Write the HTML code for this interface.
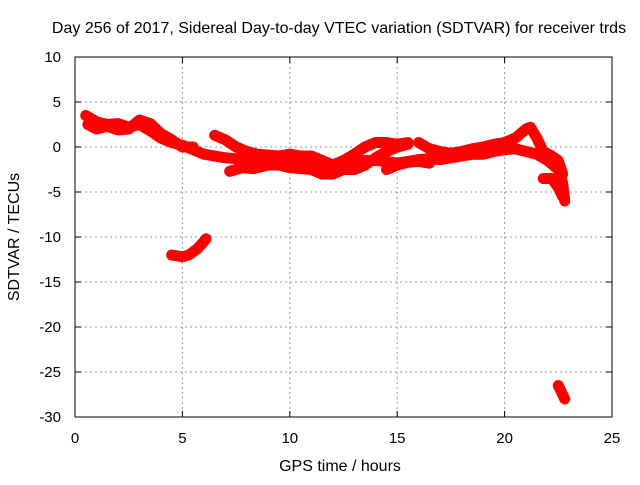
<!DOCTYPE html>
<html><head><meta charset="utf-8"><style>
body{margin:0;background:#fff}
svg text{font-family:"Liberation Sans",sans-serif;font-size:15px;fill:#000}
</style></head><body>
<svg id="chart" width="640" height="480">
<text x="339" y="33" text-anchor="middle" style="font-size:16px">Day 256 of 2017, Sidereal Day-to-day VTEC variation (SDTVAR) for receiver trds</text>
<text x="340" y="471" text-anchor="middle" style="font-size:16px">GPS time / hours</text>
<text transform="translate(19,237) rotate(-90)" text-anchor="middle" style="font-size:16px">SDTVAR / TECUs</text>
<g id="grid"></g><g id="marks"></g>
<rect x="75" y="57" width="537" height="360" fill="none" stroke="#000" stroke-width="1"/>
</svg>
<script>
const xTicks=[0,5,10,15,20,25];
const yTicks=[10,5,0,-5,-10,-15,-20,-25,-30];
const trackA=[[0.5,3.5],[1,2.8],[1.5,2.5],[2,2.6],[2.5,2.2],[3,2.5],[3.5,1.8],[4,1],[4.5,0.5],[5,0.2],[5.5,-0.3],[6,-0.8],[6.5,-1],[7,-1.2],[7.5,-1.3],[8,-1.4],[8.5,-1.2],[9,-1.5],[9.5,-1.7],[10,-1.8],[10.5,-1.9],[11,-2.2],[11.5,-2.6],[12,-2.5],[12.5,-2],[13,-1.8],[13.5,-1.5],[14,-1.5],[14.5,-1.6],[15,-1.8],[15.5,-1.6],[16,-1.4],[16.5,-1.3],[17,-1.4],[17.5,-1.2],[18,-1],[18.5,-0.8],[19,-0.8],[19.5,-0.5],[20,-0.3],[20.5,-0.2],[21,-0.5],[21.5,-0.8],[22,-1.5],[22.5,-2.5],[22.7,-4],[22.8,-6]];
const trackA2=[[0.6,2.5],[1,2],[1.5,2.3],[2,1.9],[2.5,2],[3,3],[3.5,2.6],[4,1.5],[4.5,0.8],[5,0],[5.5,0]];
const trackB=[[6.5,1.3],[7,0.8],[7.5,0],[8,-0.5],[8.5,-0.8],[9,-0.9],[9.5,-1],[10,-0.8],[10.5,-1],[11,-1],[11.5,-1.5],[12,-2],[12.5,-1.5],[13,-0.8],[13.5,0],[14,0.5],[14.5,0.5],[15,0.3],[15.5,0.5]];
const trackC=[[7.2,-2.7],[7.8,-2.3],[8.3,-2.4],[9,-2],[9.5,-2],[10,-2.3],[11,-2.5],[11.5,-3],[12,-3],[12.5,-2.5],[13,-2.5],[13.5,-2],[14,-1.2],[14.5,-0.5],[15,0],[15.5,0.3]];
const trackD=[[16,0.5],[16.5,-0.2],[17,-0.5],[17.5,-0.7],[18,-0.5],[18.5,-0.2],[19,0],[19.5,0.3],[20,0.5],[20.5,1],[21,2],[21.2,2.2],[21.5,1],[21.8,-0.5],[22.2,-1],[22.5,-1.5],[22.7,-3]];
const trackE=[[14.5,-2.5],[15,-2],[15.5,-1.7],[16,-1.6],[16.5,-1.8]];
const trackE2=[[21.8,-3.5],[22.2,-3.5],[22.5,-4.5],[22.7,-5.5]];
const trackF=[[4.5,-12],[5,-12.2],[5.3,-12],[5.7,-11.3],[6,-10.5],[6.1,-10.2]];
const trackG=[[22.5,-26.5],[22.6,-27],[22.7,-27.5],[22.8,-28]];
const tracks=[trackA,trackA2,trackB,trackC,trackD,trackE,trackE2,trackF,trackG];
const X=h=>75+h*537/25, Y=v=>57+(10-v)*9;
const NS='http://www.w3.org/2000/svg';
const grid=document.getElementById('grid'), marks=document.getElementById('marks');
function mk(tag,attrs,parent){const e=document.createElementNS(NS,tag);for(const k in attrs)e.setAttribute(k,attrs[k]);parent.appendChild(e);return e;}
xTicks.forEach(t=>{
  if(t>0&&t<25){const g=mk('line',{x1:X(t),x2:X(t),y1:57,y2:417,stroke:'#999','stroke-dasharray':'2,3'},grid);
  
  }
  mk('line',{x1:X(t),x2:X(t),y1:417,y2:411,stroke:'#000'},grid);
  mk('line',{x1:X(t),x2:X(t),y1:57,y2:63,stroke:'#000'},grid);
  const l=mk('text',{x:X(t),y:443,'text-anchor':'middle'},grid);l.textContent=t;
  
  
});
yTicks.forEach(t=>{
  if(t<10&&t>-30){const g=mk('line',{x1:75,x2:612,y1:Y(t),y2:Y(t),stroke:'#999','stroke-dasharray':'2,3'},grid);
  
  }
  mk('line',{x1:75,x2:81,y1:Y(t),y2:Y(t),stroke:'#000'},grid);
  mk('line',{x1:606,x2:612,y1:Y(t),y2:Y(t),stroke:'#000'},grid);
  const l=mk('text',{x:61,y:Y(t)+5,'text-anchor':'end'},grid);l.textContent=t;
  
  
});
tracks.forEach(tr=>{
  const p=mk('polyline',{points:tr.map(d=>X(d[0])+','+Y(d[1])).join(' '),fill:'none',stroke:'#f00','stroke-width':11,'stroke-linejoin':'round','stroke-linecap':'round'},marks);
  
  
  tr.forEach(d=>{
    const m=mk('path',{d:`M${X(d[0])-5},${Y(d[1])}h10M${X(d[0])},${Y(d[1])-5}v10`,stroke:'#f00','stroke-width':1.5},marks);
    
    
  });
});
</script>
</body></html>
